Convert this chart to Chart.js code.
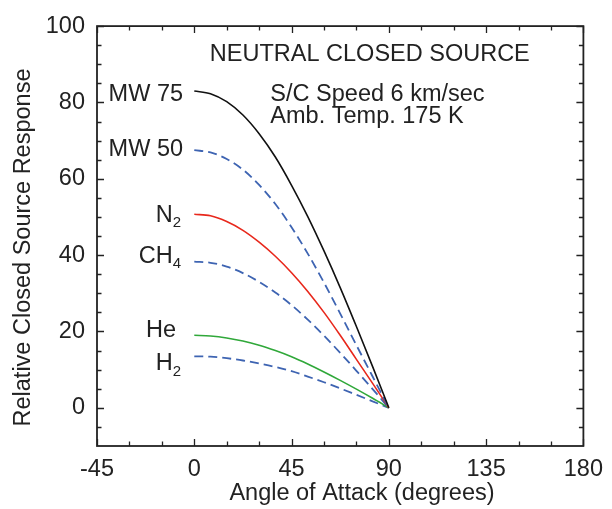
<!DOCTYPE html>
<html>
<head>
<meta charset="utf-8">
<title>Neutral closed source response</title>
<script src="https://cdn.jsdelivr.net/npm/chart.js@4/dist/chart.umd.min.js"></script>
<style>
  html, body { margin: 0; padding: 0; background: #fff; }
  #wrap { width: 612px; height: 509px; }
</style>
</head>
<body>
<div id="wrap"><canvas id="source-chart" width="612" height="509"></canvas></div>
<script>
// angle of attack (degrees) and relative response
const angles = [0, 7.5, 15, 22.5, 30, 37.5, 45, 52.5, 60, 67.5, 75, 82.5, 90];
const mw75 = [83, 82.3, 80.2, 76.7, 71.8, 65.7, 58.3, 50.1, 41.1, 31.5, 21.3, 10.8, 0];
const mw50 = [67.5, 66.9, 65.2, 62.4, 58.4, 53.4, 47.3, 40.4, 32.8, 24.7, 16.4, 8.2, 0];
const n2 = [50.7, 50.3, 48.8, 46.5, 43.4, 39.7, 35.4, 30.5, 25, 19, 12.7, 6.4, 0];
const ch4 = [38.3, 38, 37, 35.3, 33, 30.2, 26.9, 23.1, 18.9, 14.4, 9.7, 4.9, 0];
const he = [19, 18.8, 18.3, 17.5, 16.4, 15, 13.4, 11.5, 9.4, 7.2, 4.9, 2.5, 0];
const h2 = [13.5, 13.4, 13, 12.4, 11.6, 10.7, 9.6, 8.2, 6.7, 5.1, 3.4, 1.7, 0];

const xTicks = [-45, 0, 45, 90, 135, 180];
const xMinorTicks = [-30, -15, 15, 30, 60, 75, 105, 120, 150, 165];
const yTicks = [0, 20, 40, 60, 80, 100];
const yMinorTicks = [-5, 5, 10, 15, 25, 30, 35, 45, 50, 55, 65, 70, 75, 85, 90, 95];

(function () {
    const FONT = "'Liberation Sans', Arial, Helvetica, sans-serif";
    const INK = '#222';
    const BLUE = 'rgb(62, 100, 178)';
    const SIZE = 23.5;

    Chart.defaults.font.family = FONT;
    Chart.defaults.color = INK;

    function points(values) {
        return angles.map((a, i) => ({x: a, y: values[i]}));
    }

    function series(label, values, color, dashed) {
        return {
            label: label,
            data: points(values),
            borderColor: color,
            borderWidth: dashed ? 1.8 : 1.6,
            borderDash: dashed ? [9, 5] : [],
            pointRadius: 0,
            cubicInterpolationMode: 'monotone',
            fill: false,
        };
    }

    // curve labels: text, subscript, right edge (x value), baseline (y value)
    const curveLabels = [
        {text: 'MW 75', sub: '', x: -5.2, y: 80.4},
        {text: 'MW 50', sub: '', x: -5.2, y: 66.0},
        {text: 'N', sub: '2', x: -6.1, y: 48.7},
        {text: 'CH', sub: '4', x: -6.1, y: 38.0},
        {text: 'He', sub: '', x: -8.4, y: 18.6},
        {text: 'H', sub: '2', x: -6.1, y: 9.9},
    ];

    // inward ticks on all four sides plus the box
    const frameTicks = {
        id: 'frameTicks',
        afterDatasetsDraw(chart) {
            const {ctx, chartArea: a, scales: {x, y}} = chart;
            ctx.save();
            ctx.strokeStyle = INK;
            ctx.lineWidth = 1.3;
            ctx.beginPath();
            function xt(v, len) {
                const px = Math.round(x.getPixelForValue(v)) + 0.5;
                ctx.moveTo(px, a.bottom); ctx.lineTo(px, a.bottom - len);
                ctx.moveTo(px, a.top); ctx.lineTo(px, a.top + len);
            }
            function yt(v, len) {
                const py = Math.round(y.getPixelForValue(v)) + 0.5;
                ctx.moveTo(a.left, py); ctx.lineTo(a.left + len, py);
                ctx.moveTo(a.right, py); ctx.lineTo(a.right - len, py);
            }
            xTicks.forEach(v => xt(v, 7));
            xMinorTicks.forEach(v => xt(v, 4.5));
            yTicks.forEach(v => yt(v, 7));
            yMinorTicks.forEach(v => yt(v, 4.5));
            ctx.stroke();
            ctx.lineWidth = 1.8;
            ctx.strokeRect(a.left, a.top, a.right - a.left, a.bottom - a.top);
            ctx.restore();
        }
    };

    const annotations = {
        id: 'annotations',
        afterDraw(chart) {
            const {ctx, scales: {x, y}} = chart;
            ctx.save();
            ctx.fillStyle = INK;
            ctx.textBaseline = 'alphabetic';
            const main = SIZE + 'px ' + FONT;
            const small = '15px ' + FONT;

            curveLabels.forEach(function (l) {
                ctx.font = main;
                const w1 = ctx.measureText(l.text).width;
                ctx.font = small;
                const w2 = l.sub ? ctx.measureText(l.sub).width : 0;
                const right = x.getPixelForValue(l.x);
                const base = y.getPixelForValue(l.y);
                ctx.textAlign = 'left';
                ctx.font = main;
                ctx.fillText(l.text, right - w1 - w2, base);
                if (l.sub) {
                    ctx.font = small;
                    ctx.fillText(l.sub, right - w2, base + 5.5);
                }
            });

            ctx.font = main;
            ctx.textAlign = 'center';
            ctx.fillText('NEUTRAL CLOSED SOURCE', x.getPixelForValue(81.2), y.getPixelForValue(90.9));
            ctx.textAlign = 'left';
            ctx.fillText('S/C Speed 6 km/sec', x.getPixelForValue(35.2), y.getPixelForValue(80.4));
            ctx.fillText('Amb. Temp. 175 K', x.getPixelForValue(35.2), y.getPixelForValue(74.6));

            // axis titles
            ctx.textAlign = 'center';
            ctx.fillText('Angle of Attack (degrees)', 362, 500);
            ctx.translate(30, 247.5);
            ctx.rotate(-Math.PI / 2);
            ctx.fillText('Relative Closed Source Response', 0, 0);
            ctx.restore();
        }
    };

    const ctx = document.getElementById('source-chart');
    const chart = new Chart(ctx, {
        type: 'line',
        data: {
            datasets: [
                series('MW 75', mw75, '#111', false),
                series('MW 50', mw50, BLUE, true),
                series('N2', n2, 'rgb(232, 40, 28)', false),
                series('CH4', ch4, BLUE, true),
                series('He', he, 'rgb(48, 168, 58)', false),
                series('H2', h2, BLUE, true),
            ],
        },
        plugins: [frameTicks, annotations],
        options: {
            responsive: false,
            animation: false,
            layout: {padding: {top: 26, right: 23, left: 0, bottom: 0}},
            plugins: {
                legend: {display: false},
                tooltip: {enabled: false},
            },
            scales: {
                x: {
                    type: 'linear',
                    min: -45,
                    max: 180,
                    afterBuildTicks: s => { s.ticks = xTicks.map(v => ({value: v})); },
                    afterFit: s => { s.height = 63; },
                    grid: {display: false, drawTicks: false},
                    border: {display: false},
                    ticks: {
                        padding: 9,
                        autoSkip: false,
                        maxRotation: 0,
                        color: INK,
                        font: {size: SIZE},
                    },
                },
                y: {
                    type: 'linear',
                    min: -10,
                    max: 100,
                    afterBuildTicks: s => { s.ticks = yTicks.map(v => ({value: v})); },
                    afterFit: s => { s.width = 97; },
                    grid: {display: false, drawTicks: false},
                    border: {display: false},
                    ticks: {
                        padding: 12,
                        color: INK,
                        font: {size: SIZE},
                    },
                },
            },
        },
    });

    window.chart = chart;
})();
</script>
</body>
</html>
